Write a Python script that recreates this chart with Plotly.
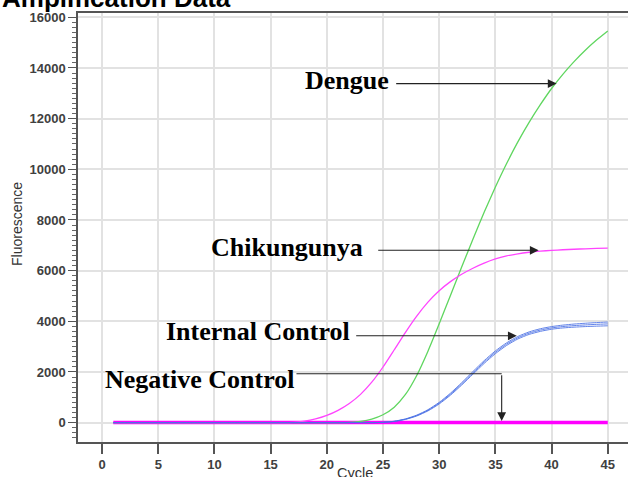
import plotly.graph_objects as go

cycles = list(range(1, 46))

negative_control = [0] * 45

chikungunya = [0] * 16 + [10, 55, 145, 285, 485, 755, 1115, 1595, 2195, 2875,
                          3565, 4205, 4755, 5205, 5565, 5855, 6095, 6295, 6460, 6580,
                          6665, 6725, 6767, 6799, 6824, 6844, 6861, 6876, 6890]

dengue = [0] * 21 + [10, 50, 140, 310, 610, 1110, 1860, 2820, 3900, 5020,
                     6140, 7240, 8300, 9300, 10230, 11080, 11850, 12550, 13190, 13750,
                     14250, 14700, 15100, 15460]

internal_control_a = [0] * 24 + [10, 55, 145, 295, 510, 800, 1160, 1575, 2015, 2445,
                                 2830, 3150, 3400, 3580, 3705, 3790, 3848, 3890, 3922, 3948, 3970]
internal_control_b = [0] * 24 + [8, 46, 126, 261, 461, 736, 1081, 1481, 1911, 2336,
                                 2721, 3046, 3301, 3481, 3601, 3686, 3736, 3768, 3790, 3807, 3821]
internal_control_c = [0] * 24 + [9, 50, 135, 278, 485, 768, 1120, 1528, 1963, 2390,
                                 2775, 3098, 3350, 3530, 3653, 3738, 3792, 3829, 3856, 3878, 3896]

x_ticks = [0, 5, 10, 15, 20, 25, 30, 35, 40, 45]
y_ticks = [0, 2000, 4000, 6000, 8000, 10000, 12000, 14000, 16000]

fig = go.Figure()
fig.add_trace(go.Scatter(x=cycles, y=negative_control, mode="lines",
                         line=dict(color="#ff00ff", width=3.5), name="Negative Control"))
fig.add_trace(go.Scatter(x=cycles, y=dengue, mode="lines",
                         line=dict(color="#5fd65f", width=1.3, shape="spline", smoothing=0.6),
                         name="Dengue"))
fig.add_trace(go.Scatter(x=cycles, y=chikungunya, mode="lines",
                         line=dict(color="#ff44ff", width=1.3, shape="spline", smoothing=0.6),
                         name="Chikungunya"))
for ic in (internal_control_b, internal_control_c, internal_control_a):
    fig.add_trace(go.Scatter(x=cycles, y=ic, mode="lines", opacity=0.85,
                             line=dict(color="#4a70e6", width=1.0, shape="spline", smoothing=0.6),
                             name="Internal Control"))

label_font = dict(family="Liberation Serif", size=26, color="black", weight="bold")
arrow_color = "#222222"

# Labels
fig.add_annotation(x=21.78, y=13494, text="Dengue", showarrow=False, font=label_font,
                   xanchor="center", yanchor="middle")
fig.add_annotation(x=16.48, y=6900, text="Chikungunya", showarrow=False, font=label_font,
                   xanchor="center", yanchor="middle")
fig.add_annotation(x=13.85, y=3580, text="Internal Control", showarrow=False, font=label_font,
                   xanchor="center", yanchor="middle")
fig.add_annotation(x=8.69, y=1705, text="Negative Control", showarrow=False, font=label_font,
                   xanchor="center", yanchor="middle")

# Arrows
def arrow(x0, y0, x1, y1):
    fig.add_annotation(x=x1, y=y1, ax=x0, ay=y0, axref="x", ayref="y", xref="x", yref="y",
                       text="", showarrow=True, arrowhead=2, arrowsize=1.6, arrowwidth=1.1,
                       arrowcolor=arrow_color, standoff=0, startstandoff=0)

arrow(26.04, 13383, 40.45, 13383)
arrow(24.44, 6802, 38.85, 6802)
arrow(22.48, 3427, 36.9, 3427)
fig.add_shape(type="line", x0=17.3, y0=1930, x1=35.56, y1=1930, xref="x", yref="y",
              line=dict(color=arrow_color, width=1.1))
arrow(35.56, 1930, 35.56, 60)

# Title and axis titles
fig.add_annotation(x=0, y=1, xref="paper", yref="paper", text="Amplification Data",
                   showarrow=False, xanchor="left", yanchor="middle", xshift=-78, yshift=15.5,
                   font=dict(family="Liberation Sans", size=26, color="black", weight="bold"))
fig.add_annotation(x=0, y=0.5, xref="paper", yref="paper", text="Fluorescence",
                   showarrow=False, textangle=-90, xanchor="center", yanchor="middle",
                   xshift=-61.5, yshift=3,
                   font=dict(family="Liberation Sans", size=14, color="#333333"))
fig.add_annotation(x=0.5, y=0, xref="paper", yref="paper", text="Cycle",
                   showarrow=False, xanchor="center", yanchor="middle", yshift=-31, xshift=2,
                   font=dict(family="Liberation Sans", size=14.5, color="#333333"))

tick_font = dict(family="Liberation Sans", size=13, color="#404040", weight="bold")

fig.update_layout(
    width=628, height=477,
    margin=dict(l=78, r=0, t=13, b=35),
    paper_bgcolor="white", plot_bgcolor="white",
    showlegend=False,
    xaxis=dict(range=[-2.14, 46.8], tickvals=x_ticks, ticktext=[str(v) for v in x_ticks],
               showgrid=True, gridcolor="#e2e2e2", gridwidth=1.5,
               showline=True, linecolor="#555555", linewidth=1.5, mirror=True,
               ticks="outside", ticklen=10, tickwidth=1.5, tickcolor="#555555",
               tickfont=tick_font, zeroline=False),
    yaxis=dict(range=[-766, 16170], tickvals=y_ticks, ticktext=[str(v) for v in y_ticks],
               showgrid=True, gridcolor="#e2e2e2", gridwidth=1.5,
               showline=True, linecolor="#555555", linewidth=1.5,
               ticks="outside", ticklen=8, tickwidth=1.2, tickcolor="#555555",
               tickfont=tick_font, zeroline=False,
               minor=dict(dtick=200, tick0=0, ticks="outside", ticklen=4, tickwidth=1,
                          tickcolor="#666666", showgrid=False)),
)

fig.write_html("out.html", config={"displayModeBar": False},
               post_script="document.body.style.margin='0px';document.body.style.overflow='hidden';")
